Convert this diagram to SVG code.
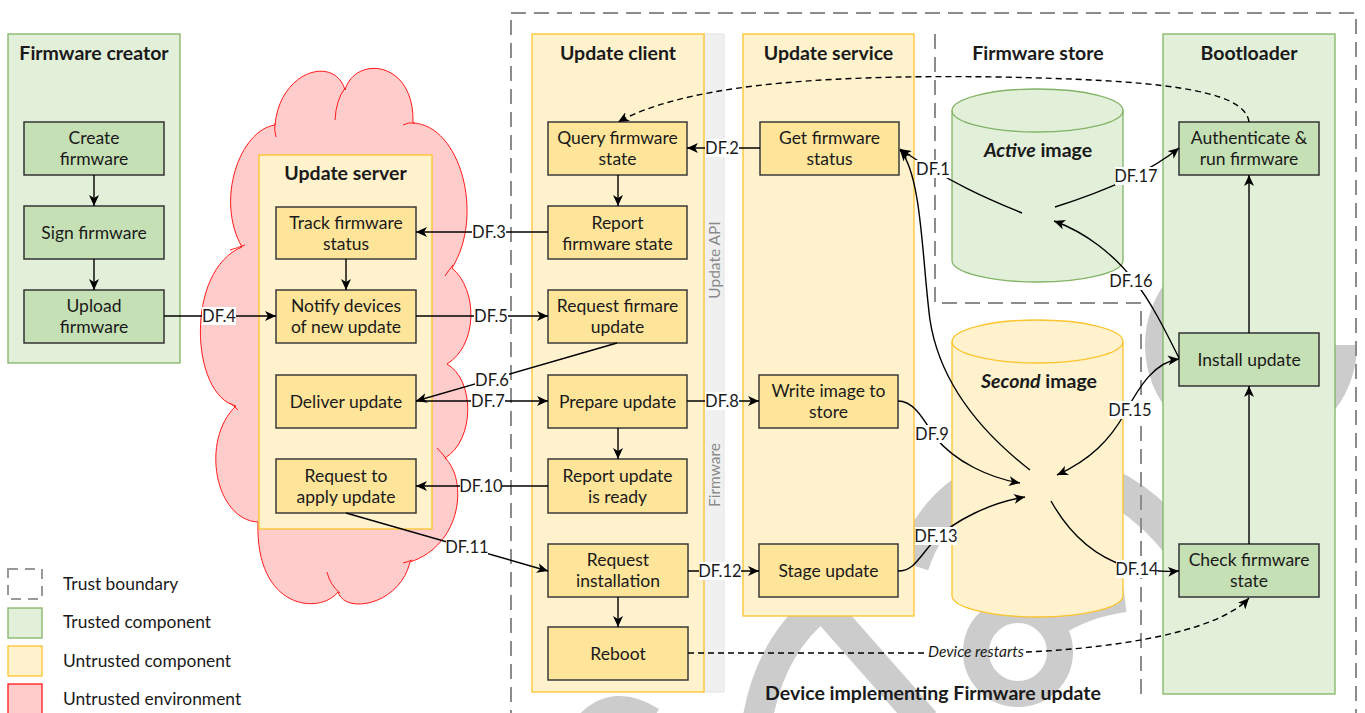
<svg xmlns="http://www.w3.org/2000/svg" width="1365" height="713" viewBox="0 0 1365 713">
<defs>
<style>
text{font-family:Lato,"Liberation Sans",sans-serif;fill:#1a1a1a}
.t{font-size:17.5px;text-anchor:middle}
.h{font-size:19.5px;font-weight:bold;text-anchor:middle}
.lbl{font-size:16.5px;text-anchor:middle}
.leg{font-size:17.4px}
.api{font-size:15.5px;fill:#8a8a8a;text-anchor:middle}
.gc{fill:#e2efd9;stroke:#82b366;stroke-width:1.3}
.gb{fill:#c5e0b4;stroke:#333;stroke-width:1.5}
.yc{fill:#fff2cc;stroke:#fcc42d;stroke-width:1.3}
.yb{fill:#ffe599;stroke:#3a3a3a;stroke-width:1.5}
.bd{fill:none;stroke:#8c8c8c;stroke-width:2;stroke-dasharray:15 8}
.c{fill:none;stroke:#000;stroke-width:1.4}
.d{fill:none;stroke:#000;stroke-width:1.4;stroke-dasharray:6 4}
.lb{fill:#fff}
.wm{fill:none;stroke:#cccccc}
.cr{fill:none;stroke:#ff1a1a;stroke-width:1}
</style>
<marker id="a" markerUnits="userSpaceOnUse" markerWidth="12" markerHeight="10" refX="11" refY="5" orient="auto-start-reverse">
<path d="M0,0 L11,5 L0,10 L3,5 Z" fill="#000"/>
</marker>
</defs>
<rect width="1365" height="713" fill="#fff"/>

<g id="watermark" class="wm">
<path d="M 1343 345 A 92 92 0 1 1 1250 253" stroke-width="28"/>
<path d="M 912 565 C 950 450, 1090 430, 1180 545" stroke-width="34"/>
<circle cx="1018" cy="652" r="42" stroke-width="26"/>
<path d="M 1050 628 Q 1085 605 1125 600" stroke-width="24"/>
<path d="M 757 722 Q 770 645 822 605 L 925 722" stroke-width="30"/>
<path d="M 588 724 Q 615 696 652 720" stroke-width="26"/>
</g>

<g id="device-boundary">
<rect x="511" y="13" width="845" height="730" class="bd"/>
<text class="h" x="933" y="700">Device implementing Firmware update</text>
</g>

<g id="firmware-creator">
<rect x="8" y="34" width="172" height="329" class="gc"/>
<text class="h" x="94" y="60">Firmware creator</text>
</g>
<g id="create-firmware"><rect x="24" y="122" width="140" height="53" class="gb"/><text class="t" x="94" y="144">Create</text><text class="t" x="94" y="165">firmware</text></g>
<g id="sign-firmware"><rect x="24" y="206" width="140" height="53" class="gb"/><text class="t" x="94" y="238.5">Sign firmware</text></g>
<g id="upload-firmware"><rect x="24" y="290" width="140" height="53" class="gb"/><text class="t" x="94" y="312">Upload</text><text class="t" x="94" y="333">firmware</text></g>

<g id="cloud">
<path d="M 275 125 C 280 70, 335 55, 345 90 C 355 55, 415 60, 413 123 C 460 125, 485 215, 452 268 C 478 290, 478 345, 447 364 C 475 380, 475 440, 445 458 C 468 480, 462 545, 410 562 C 400 605, 345 615, 338 592 C 320 615, 255 610, 258 522 C 215 520, 200 440, 236 406 C 190 395, 185 270, 242 247 C 215 200, 240 130, 275 125 Z" fill="#ffcccc" stroke="#ff1a1a" stroke-width="1"/>
<path class="cr" d="M 275 123 Q 274 130 276 137"/>
<path class="cr" d="M 335 120 Q 336 100 345 88"/>
<path class="cr" d="M 403 125 Q 408 122 415 123"/>
<path class="cr" d="M 445 276 Q 448 271 453 265"/>
<path class="cr" d="M 437 448 Q 443 454 447 460"/>
<path class="cr" d="M 403 563 Q 407 562 412 560"/>
<path class="cr" d="M 327 572 Q 330 585 340 593"/>
<path class="cr" d="M 230 403 Q 234 406 238 410"/>
<path class="cr" d="M 230 250 Q 237 248 245 245"/>
</g>

<g id="update-server">
<rect x="259" y="155" width="173" height="374" class="yc"/>
<text class="h" x="345.5" y="180">Update server</text>
</g>
<g id="track-firmware-status"><rect x="276" y="207" width="140" height="52" class="yb"/><text class="t" x="346" y="228.5">Track firmware</text><text class="t" x="346" y="249.5">status</text></g>
<g id="notify-devices"><rect x="276" y="290" width="140" height="53" class="yb"/><text class="t" x="346" y="312">Notify devices</text><text class="t" x="346" y="333">of new update</text></g>
<g id="deliver-update"><rect x="276" y="375" width="140" height="53" class="yb"/><text class="t" x="346" y="407.5">Deliver update</text></g>
<g id="request-to-apply"><rect x="276" y="459" width="140" height="54" class="yb"/><text class="t" x="346" y="481.5">Request to</text><text class="t" x="346" y="502.5">apply update</text></g>

<g id="api-strip">
<rect x="704" y="34" width="20" height="658" fill="#f0f0f0" stroke="#e3e3e3" stroke-width="1"/>
<text class="api" transform="translate(719.5,260) rotate(-90)">Update API</text>
<text class="api" transform="translate(719.5,475) rotate(-90)">Firmware</text>
</g>

<g id="update-client">
<rect x="532" y="34" width="172" height="658" class="yc"/>
<text class="h" x="618" y="60">Update client</text>
</g>
<g id="query-firmware-state"><rect x="548" y="122" width="139" height="53" class="yb"/><text class="t" x="617.5" y="144">Query firmware</text><text class="t" x="617.5" y="165">state</text></g>
<g id="report-firmware-state"><rect x="548" y="206" width="139" height="53" class="yb"/><text class="t" x="617.5" y="228.5">Report</text><text class="t" x="617.5" y="249.5">firmware state</text></g>
<g id="request-firmare-update"><rect x="548" y="290" width="139" height="53" class="yb"/><text class="t" x="617.5" y="312">Request firmare</text><text class="t" x="617.5" y="333">update</text></g>
<g id="prepare-update"><rect x="548" y="375" width="139" height="53" class="yb"/><text class="t" x="617.5" y="407.5">Prepare update</text></g>
<g id="report-update-ready"><rect x="548" y="459" width="139" height="54" class="yb"/><text class="t" x="617.5" y="481.5">Report update</text><text class="t" x="617.5" y="502.5">is ready</text></g>
<g id="request-installation"><rect x="548" y="544" width="140" height="53" class="yb"/><text class="t" x="618" y="566">Request</text><text class="t" x="618" y="587">installation</text></g>
<g id="reboot"><rect x="548" y="627" width="140" height="53" class="yb"/><text class="t" x="618" y="659.5">Reboot</text></g>

<g id="update-service">
<rect x="743" y="34" width="171" height="582" class="yc"/>
<text class="h" x="828.5" y="60">Update service</text>
</g>
<g id="get-firmware-status"><rect x="760" y="122" width="139" height="53" class="yb"/><text class="t" x="829.5" y="144">Get firmware</text><text class="t" x="829.5" y="165">status</text></g>
<g id="write-image"><rect x="759" y="375" width="139" height="53" class="yb"/><text class="t" x="828.5" y="397">Write image to</text><text class="t" x="828.5" y="418">store</text></g>
<g id="stage-update"><rect x="759" y="544" width="139" height="53" class="yb"/><text class="t" x="828.5" y="576.5">Stage update</text></g>

<g id="firmware-store">
<path d="M 935 34 L 935 303 L 1141 303 L 1141 700" class="bd"/>
<text class="h" x="1038" y="60">Firmware store</text>
</g>
<g id="active-image">
<path d="M 952 110.5 L 952 260.5 A 85.5 21.5 0 0 0 1123 260.5 L 1123 110.5 A 85.5 21.5 0 0 0 952 110.5 Z" fill="#e2efd9" stroke="#82b366" stroke-width="1.3"/>
<path d="M 952 110.5 A 85.5 21.5 0 0 0 1123 110.5" fill="none" stroke="#82b366" stroke-width="1.3"/>
<text class="h" x="1038" y="157"><tspan font-style="italic">Active</tspan> image</text>
</g>
<g id="second-image">
<path d="M 952 341.5 L 952 595.5 A 85.5 21.5 0 0 0 1123 595.5 L 1123 341.5 A 85.5 21.5 0 0 0 952 341.5 Z" fill="#fff2cc" stroke="#fcc42d" stroke-width="1.3"/>
<path d="M 952 341.5 A 85.5 21.5 0 0 0 1123 341.5" fill="none" stroke="#fcc42d" stroke-width="1.3"/>
<text class="h" x="1039" y="388"><tspan font-style="italic">Second</tspan> image</text>
</g>

<g id="bootloader">
<rect x="1163" y="34" width="172" height="660" class="gc"/>
<text class="h" x="1249" y="60">Bootloader</text>
</g>
<g id="authenticate-run"><rect x="1179" y="122" width="140" height="53" class="gb"/><text class="t" x="1249" y="144">Authenticate &amp;</text><text class="t" x="1249" y="165">run firmware</text></g>
<g id="install-update"><rect x="1179" y="333" width="140" height="53" class="gb"/><text class="t" x="1249" y="365.5">Install update</text></g>
<g id="check-firmware-state"><rect x="1179" y="544" width="140" height="53" class="gb"/><text class="t" x="1249" y="566">Check firmware</text><text class="t" x="1249" y="587">state</text></g>

<g id="connectors" marker-end="url(#a)">
<path class="c" d="M 94 175 L 94 206"/>
<path class="c" d="M 94 259 L 94 290"/>
<path class="c" d="M 346 259 L 346 290"/>
<path class="c" d="M 618 175 L 618 206"/>
<path class="c" d="M 618 428 L 618 459"/>
<path class="c" d="M 618 597 L 618 627"/>
<path class="c" d="M 1249 544 L 1249 386" stroke="#333"/>
<path class="c" d="M 1249 333 L 1249 175" stroke="#333"/>
<path class="c" d="M 1022 213 C 990 200, 950 183, 900 149"/>
<path class="c" d="M 1030 470 C 985 435, 940 385, 930 320 C 922 260, 922 175, 900 150"/>
<path class="c" d="M 760 148 L 687 148"/>
<path class="c" d="M 548 232 L 416 232"/>
<path class="c" d="M 164 316 L 276 316"/>
<path class="c" d="M 416 316 L 548 316"/>
<path class="c" d="M 617 343 L 416 401"/>
<path class="c" d="M 416 401 L 548 401"/>
<path class="c" d="M 687 401 L 759 401"/>
<path class="c" d="M 898 401 C 915 401, 925 422, 935 437 C 955 462, 990 478, 1020 483"/>
<path class="c" d="M 548 486 L 416 486"/>
<path class="c" d="M 346 513 L 548 571"/>
<path class="c" d="M 688 571 L 759 571"/>
<path class="c" d="M 898 571 C 915 571, 920 555, 935 540 C 955 520, 990 503, 1025 497"/>
<path class="c" d="M 1051 501 C 1070 535, 1095 556, 1125 566 C 1150 572, 1165 572, 1179 571"/>
<path class="c" d="M 1057 475 C 1090 460, 1110 440, 1125 413 C 1140 385, 1155 362, 1179 359" marker-start="url(#a)"/>
<path class="c" d="M 1179 358 C 1165 330, 1150 300, 1135 282 C 1115 255, 1085 232, 1054 221"/>
<path class="c" d="M 1055 207 Q 1140 180 1179 148"/>
<path class="d" d="M 1249 122 C 1245 88, 1150 80, 1000 77 C 800 74, 680 88, 618 122"/>
<path class="d" d="M 688 653 L 927 653" marker-end="none"/>
<path class="d" d="M 1026 652 C 1100 649, 1215 635, 1249 598"/>
<g id="labels">
<rect class="lb" x="916" y="160" width="34" height="18"/><text class="lbl" x="933" y="175">DF.1</text>
<rect class="lb" x="705" y="139" width="34" height="18"/><text class="lbl" x="722" y="154">DF.2</text>
<rect class="lb" x="472" y="223" width="34" height="18"/><text class="lbl" x="489" y="238">DF.3</text>
<rect class="lb" x="202" y="307" width="34" height="18"/><text class="lbl" x="219" y="322">DF.4</text>
<rect class="lb" x="474" y="307" width="34" height="18"/><text class="lbl" x="491" y="322">DF.5</text>
<rect class="lb" x="475" y="371" width="34" height="17"/><text class="lbl" x="492" y="386">DF.6</text>
<rect class="lb" x="471" y="393" width="34" height="17"/><text class="lbl" x="488" y="407">DF.7</text>
<rect class="lb" x="705" y="392" width="34" height="18"/><text class="lbl" x="722" y="407">DF.8</text>
<rect class="lb" x="915" y="425" width="34" height="18"/><text class="lbl" x="932" y="440">DF.9</text>
<rect class="lb" x="460" y="477" width="42" height="18"/><text class="lbl" x="481" y="492">DF.10</text>
<rect class="lb" x="446" y="538" width="42" height="18"/><text class="lbl" x="467" y="553">DF.11</text>
<rect class="lb" x="699" y="562" width="42" height="18"/><text class="lbl" x="720" y="577">DF.12</text>
<rect class="lb" x="915" y="527" width="42" height="18"/><text class="lbl" x="936" y="542">DF.13</text>
<rect class="lb" x="1116" y="560" width="42" height="18"/><text class="lbl" x="1137" y="575">DF.14</text>
<rect class="lb" x="1109" y="401" width="42" height="18"/><text class="lbl" x="1130" y="416">DF.15</text>
<rect class="lb" x="1110" y="272" width="42" height="18"/><text class="lbl" x="1131" y="287">DF.16</text>
<rect class="lb" x="1115" y="167" width="42" height="18"/><text class="lbl" x="1136" y="182">DF.17</text>
<text x="976" y="657" font-size="15.5" font-style="italic" text-anchor="middle">Device restarts</text>
</g>
</g>

<g id="legend">
<rect x="8" y="569" width="34" height="30" fill="none" stroke="#999" stroke-width="2" stroke-dasharray="10 7"/>
<text class="leg" x="63" y="590">Trust boundary</text>
<rect x="8" y="608" width="34" height="30" fill="#e2efd9" stroke="#82b366" stroke-width="1.3"/>
<text class="leg" x="63" y="628">Trusted component</text>
<rect x="8" y="646" width="34" height="30" fill="#fff2cc" stroke="#fcc42d" stroke-width="1.3"/>
<text class="leg" x="63" y="667">Untrusted component</text>
<rect x="8" y="684" width="34" height="40" fill="#ffcccc" stroke="#ff1a1a" stroke-width="1.3"/>
<text class="leg" x="63" y="705">Untrusted environment</text>
</g>
</svg>
